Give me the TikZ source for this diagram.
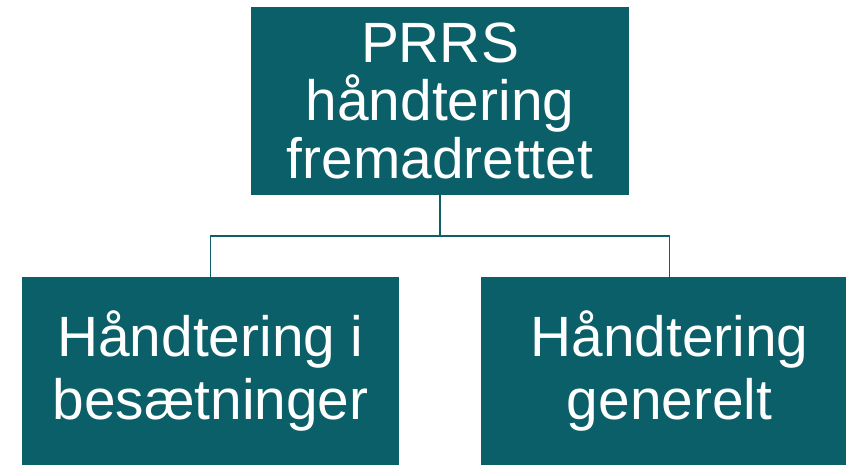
\documentclass[tikz,border=0pt]{standalone}
\usepackage{fontspec}
\setmainfont{Liberation Sans}
\usetikzlibrary{positioning}
\definecolor{teal}{HTML}{0B5F68}
\tikzstyle{box} = [rectangle, fill=teal, text=white, inner sep=0pt, minimum width=11.31cm, minimum height=5.64cm, align=center, font=\fontsize{48.5pt}{49.5pt}\selectfont]
\tikzstyle{subbox} = [box, font=\fontsize{48.5pt}{53.5pt}\selectfont]
\tikzstyle{line} = [draw=teal, line width=1.6pt]

\begin{document}
\begin{tikzpicture}[x=0.03cm, y=-0.03cm]

\useasboundingbox (0,0) rectangle (846,464);
\clip (0,0) rectangle (846,464);

\node[box] (prrs) at (440,101) {PRRS\\håndtering\\fremadrettet};

\node[subbox] (besaet) at (210.5,371) {Håndtering i\\besætninger};
\node[subbox] (generelt) at (669.5,371) {Håndtering\\generelt};

\coordinate (split) at (440,236);

\draw [line] (prrs.south) -- (split) -| (besaet.north);
\draw [line] (split) -| (generelt.north);

\end{tikzpicture}
\end{document}
